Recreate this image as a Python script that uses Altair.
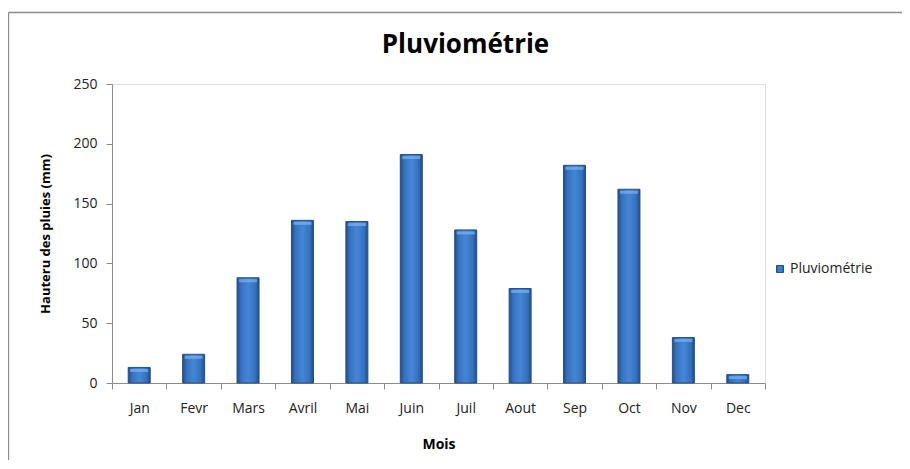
import altair as alt
import pandas as pd

mois = ["Jan", "Fevr", "Mars", "Avril", "Mai", "Juin", "Juil", "Aout", "Sep", "Oct", "Nov", "Dec"]
pluie = [13, 24, 88, 136, 135, 191, 128, 79, 182, 162, 38, 7]
serie = ["Pluviométrie"] * len(mois)

df = pd.DataFrame({"Mois": mois, "Pluie": pluie, "Serie": serie})

W, H = 653, 299
FONT = "Open Sans"
AXC = "#8c8c8c"

grad = alt.Gradient(
    gradient="linear", x1=0, x2=1, y1=0, y2=0,
    stops=[
        alt.GradientStop(color="#234d86", offset=0),
        alt.GradientStop(color="#3672bd", offset=0.18),
        alt.GradientStop(color="#4486d6", offset=0.5),
        alt.GradientStop(color="#3672bd", offset=0.82),
        alt.GradientStop(color="#234d86", offset=1),
    ],
)

x_enc = alt.X(
    "Mois:N", sort=mois,
    scale=alt.Scale(paddingInner=0, paddingOuter=0),
    axis=alt.Axis(
        title="Mois", labelAngle=0, tickBand="extent",
        domainColor=AXC, tickColor=AXC, tickSize=6,
        labelFont=FONT, labelFontSize=14, labelColor="#222", labelPadding=12,
        titleFont=FONT, titleFontSize=14, titleFontWeight="bold", titleColor="#000",
        titleY=61, titleBaseline="middle",
    ),
)
y_enc = alt.Y(
    "Pluie:Q",
    scale=alt.Scale(domain=[0, 250], nice=False),
    axis=alt.Axis(
        title="Hauteru des pluies (mm)", values=[0, 50, 100, 150, 200, 250], grid=False,
        domainColor=AXC, tickColor=AXC, tickSize=6,
        labelFont=FONT, labelFontSize=14, labelColor="#222", labelPadding=9,
        titleFont=FONT, titleFontSize=13, titleFontWeight="bold", titleColor="#000",
        titleAngle=-90, titleX=-67, titleY=H / 2, titleAlign="center", titleBaseline="middle",
    ),
)

base = alt.Chart(df)

bars = base.mark_bar(fill=grad, size=22, strokeWidth=1).encode(
    x=x_enc,
    y=y_enc,
    stroke=alt.Stroke(
        "Serie:N",
        scale=alt.Scale(range=["#24508a"]),
        legend=alt.Legend(
            title=None, orient="none", legendX=661, legendY=178,
            symbolType="square", symbolFillColor="#3f7fcc", symbolSize=49,
            symbolStrokeWidth=1, labelFont=FONT, labelFontSize=14, labelColor="#222",
            labelOffset=3,
        ),
    ),
)

bevel = base.mark_tick(color="#7db3ef", size=18, thickness=3, yOffset=3).encode(
    x=alt.X("Mois:N", sort=mois), y="Pluie:Q"
)

frame = alt.Chart(pd.DataFrame({"a": [0]}))
top_line = frame.mark_rule(color="#8c8c8c", strokeWidth=1.3).encode(
    x=alt.value(-103.5), x2=alt.value(800), y=alt.value(-71.5)
)
left_line = frame.mark_rule(color="#8c8c8c", strokeWidth=1.3).encode(
    x=alt.value(-103.5), y=alt.value(-71.5), y2=alt.value(380)
)

chart = alt.layer(bars, bevel, top_line, left_line).properties(
    width=W, height=H,
    title=alt.TitleParams(
        "Pluviométrie", font=FONT, fontSize=26, fontWeight="bold", color="#000",
        anchor="middle", dx=27, offset=-67, baseline="alphabetic",
    ),
    autosize=alt.AutoSizeParams(type="none"),
    padding={"left": 104, "top": 76, "right": 137, "bottom": 77},
).configure_view(stroke=None).configure(background="white")

chart.save("out.html", embed_options={"renderer": "svg", "actions": False})
